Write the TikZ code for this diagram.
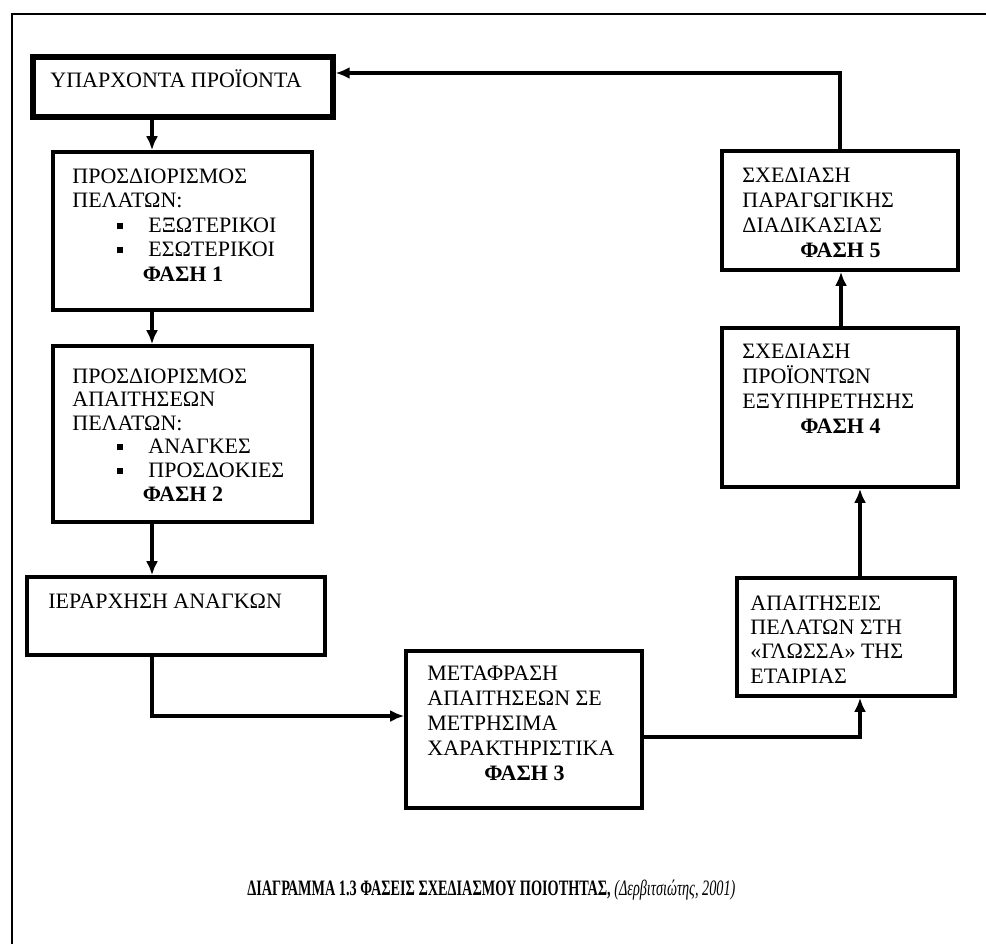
\documentclass[tikz,border=0pt]{standalone}
\usepackage{fontspec}
\setmainfont{Liberation Serif}
\usetikzlibrary{arrows.meta}

% one bulleted entry inside a box text
\newcommand\bulitem[1]{\hspace*{22.5pt}\rule[1.8pt]{3pt}{3pt}\hspace*{12.5pt}#1}
% the bold phase line, centred on the box
\newcommand\phaseline[1]{\makebox[\linewidth][c]{\textbf{#1}}}

\begin{document}
\begin{tikzpicture}[x=0.5pt,y=-0.5pt,
  box/.style={draw, rectangle, line width=1.8pt, inner sep=0pt},
  mainbox/.style={box, line width=2.6pt},
  link/.style={line width=1.6pt, -{Latex[length=7pt,width=6pt]}},
  txt/.style={anchor=base west, inner sep=0pt, font=\fontsize{11}{#1}\selectfont},
  txt/.default=12.3pt,
  frame/.style={line width=1pt},
]
\useasboundingbox (0,0) rectangle (986,944);

% page frame
\draw[frame] (12,944) -- (12,14);
\draw[frame, line width=1.4pt] (11,14) -- (986,14);

% boxes
\node[mainbox, minimum width=150pt, minimum height=30pt]  (A) at (183,87) {};
\node[box, minimum width=129.5pt, minimum height=79pt]    (B) at (182.5,231) {};
\node[box, minimum width=129.5pt, minimum height=88pt]    (C) at (182.5,434) {};
\node[box, minimum width=149pt, minimum height=39pt]      (D) at (176,616) {};
\node[box, minimum width=118pt, minimum height=78.5pt]    (E) at (524,729.5) {};
\node[box, minimum width=109pt, minimum height=59pt]      (F) at (846,637) {};
\node[box, minimum width=118pt, minimum height=79.5pt]    (G) at (840,407.5) {};
\node[box, minimum width=118pt, minimum height=59.5pt]    (H) at (840,210.5) {};

% box texts
\node[txt] (At) at (50,87) {ΥΠΑΡΧΟΝΤΑ ΠΡΟΪΟΝΤΑ};
\node[txt] (Bt) at (72,183) {\parbox[t]{110.5pt}{ΠΡΟΣΔΙΟΡΙΣΜΟΣ\\
  ΠΕΛΑΤΩΝ:\\
  \bulitem{ΕΞΩΤΕΡΙΚΟΙ}\\
  \bulitem{ΕΣΩΤΕΡΙΚΟΙ}\\
  \phaseline{ΦΑΣΗ 1}}};
\node[txt=11.8pt] (Ct) at (72,383) {\parbox[t]{110.5pt}{ΠΡΟΣΔΙΟΡΙΣΜΟΣ\\
  ΑΠΑΙΤΗΣΕΩΝ\\
  ΠΕΛΑΤΩΝ:\\
  \bulitem{ΑΝΑΓΚΕΣ}\\
  \bulitem{ΠΡΟΣΔΟΚΙΕΣ}\\
  \phaseline{ΦΑΣΗ 2}}};
\node[txt] (Dt) at (48,608) {ΙΕΡΑΡΧΗΣΗ ΑΝΑΓΚΩΝ};
\node[txt=12.5pt] (Et) at (427,680) {\parbox[t]{97pt}{ΜΕΤΑΦΡΑΣΗ\\
  ΑΠΑΙΤΗΣΕΩΝ ΣΕ\\
  ΜΕΤΡΗΣΙΜΑ\\
  ΧΑΡΑΚΤΗΡΙΣΤΙΚΑ\\
  \phaseline{ΦΑΣΗ 3}}};
\node[txt=12.2pt] (Ft) at (750,610) {\parbox[t]{96pt}{ΑΠΑΙΤΗΣΕΙΣ\\
  ΠΕΛΑΤΩΝ ΣΤΗ\\
  «ΓΛΩΣΣΑ» ΤΗΣ\\
  ΕΤΑΙΡΙΑΣ}};
\node[txt=12.5pt] (Gt) at (742,358) {\parbox[t]{98pt}{ΣΧΕΔΙΑΣΗ\\
  ΠΡΟΪΟΝΤΩΝ\\
  ΕΞΥΠΗΡΕΤΗΣΗΣ\\
  \phaseline{ΦΑΣΗ 4}}};
\node[txt=12.6pt] (Ht) at (742,182) {\parbox[t]{98pt}{ΣΧΕΔΙΑΣΗ\\
  ΠΑΡΑΓΩΓΙΚΗΣ\\
  ΔΙΑΔΙΚΑΣΙΑΣ\\
  \phaseline{ΦΑΣΗ 5}}};

% connector routes
\coordinate (colL)  at (152,0);
\coordinate (colR)  at (860,0);
\coordinate (colR2) at (841,0);
\coordinate (rowDE) at (0,716);
\coordinate (rowEF) at (0,737);
\coordinate (rowTop) at (0,73);

\draw[link] (A.south -| colL) -- (B.north -| colL);
\draw[link] (B.south -| colL) -- (C.north -| colL);
\draw[link] (C.south -| colL) -- (D.north -| colL);
\draw[link] (D.south -| colL) -- (colL |- rowDE) -- (E.west |- rowDE);
\draw[link] (E.east |- rowEF) -- (colR |- rowEF) -- (F.south -| colR);
\draw[link] (F.north -| colR) -- (G.south -| colR);
\draw[link] (G.north -| colR2) -- (H.south -| colR2);
\draw[link] (H.north) -- (H.north |- rowTop) -- (A.east |- rowTop);

% caption
\node[anchor=base west, inner sep=0pt, font=\fontsize{11}{13}\selectfont] (cap) at (247,895)
  {\resizebox{244pt}{\height}{\textbf{ΔΙΑΓΡΑΜΜΑ 1.3 ΦΑΣΕΙΣ ΣΧΕΔΙΑΣΜΟΥ ΠΟΙΟΤΗΤΑΣ,} \textit{(Δερβιτσιώτης, 2001)}}};
\end{tikzpicture}
\end{document}
